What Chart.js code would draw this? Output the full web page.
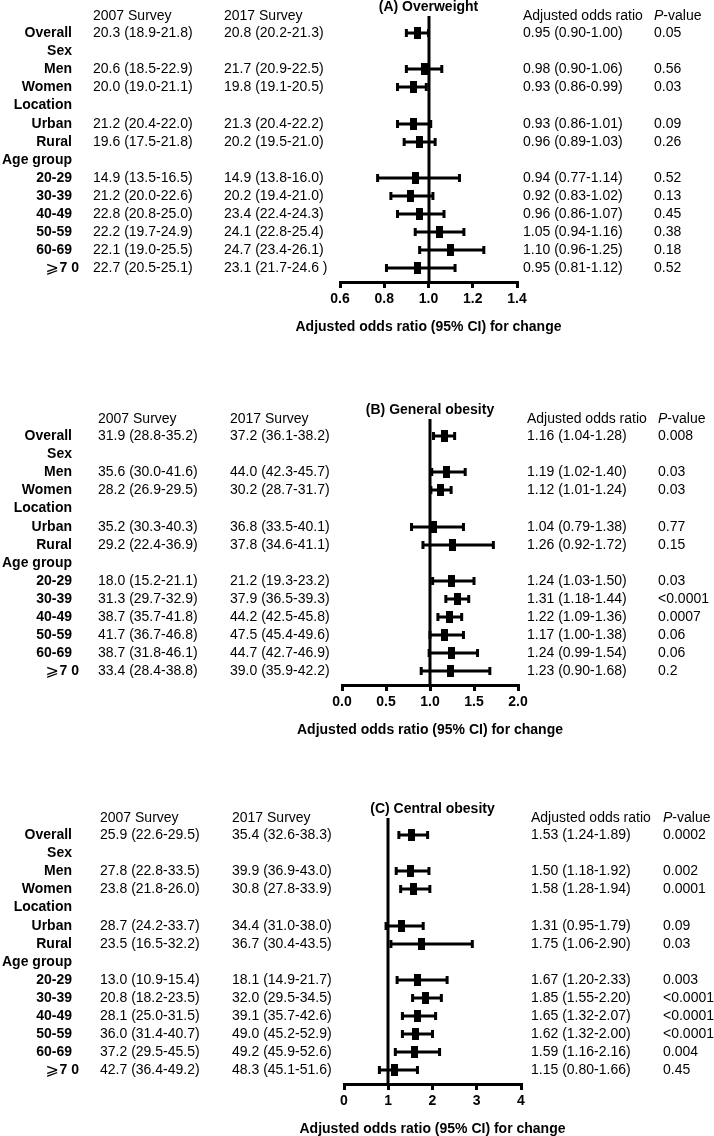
<!DOCTYPE html>
<html>
<head>
<meta charset="utf-8">
<script src="https://cdn.jsdelivr.net/npm/chart.js@4.4.1/dist/chart.umd.min.js"></script>
<style>
  html, body { margin: 0; padding: 0; background: #fff; }
  #page { position: relative; width: 714px; height: 1136px; overflow: hidden; }
  #page canvas { position: absolute; left: 0; }
</style>
</head>
<body>
<div id="page">
  <canvas id="panelA" width="714" height="340" style="top:-2px"></canvas>
  <canvas id="panelB" width="714" height="340" style="top:401px"></canvas>
  <canvas id="panelC" width="714" height="340" style="top:800px"></canvas>
</div>
<script>
// filas de la tabla (los grupos no llevan datos)
var rowLabels = ['Overall', 'Sex', 'Men', 'Women', 'Location', 'Urban', 'Rural', 'Age group',
                 '20-29', '30-39', '40-49', '50-59', '60-69', '\u2A7E7 0'];
var groupRows = [1, 4, 7];

// (A) Overweight
var overweight2007 = ['20.3 (18.9-21.8)', null, '20.6 (18.5-22.9)', '20.0 (19.0-21.1)', null, '21.2 (20.4-22.0)', '19.6 (17.5-21.8)', null,
                      '14.9 (13.5-16.5)', '21.2 (20.0-22.6)', '22.8 (20.8-25.0)', '22.2 (19.7-24.9)', '22.1 (19.0-25.5)', '22.7 (20.5-25.1)'];
var overweight2017 = ['20.8 (20.2-21.3)', null, '21.7 (20.9-22.5)', '19.8 (19.1-20.5)', null, '21.3 (20.4-22.2)', '20.2 (19.5-21.0)', null,
                      '14.9 (13.8-16.0)', '20.2 (19.4-21.0)', '23.4 (22.4-24.3)', '24.1 (22.8-25.4)', '24.7 (23.4-26.1)', '23.1 (21.7-24.6 )'];
var overweightOR   = [0.95, null, 0.98, 0.93, null, 0.93, 0.96, null, 0.94, 0.92, 0.96, 1.05, 1.10, 0.95];
var overweightLow  = [0.90, null, 0.90, 0.86, null, 0.86, 0.89, null, 0.77, 0.83, 0.86, 0.94, 0.96, 0.81];
var overweightHigh = [1.00, null, 1.06, 0.99, null, 1.01, 1.03, null, 1.14, 1.02, 1.07, 1.16, 1.25, 1.12];
var overweightP    = ['0.05', null, '0.56', '0.03', null, '0.09', '0.26', null, '0.52', '0.13', '0.45', '0.38', '0.18', '0.52'];
var overweightTicks = [0.6, 0.8, 1.0, 1.2, 1.4];

// (B) General obesity
var general2007 = ['31.9 (28.8-35.2)', null, '35.6 (30.0-41.6)', '28.2 (26.9-29.5)', null, '35.2 (30.3-40.3)', '29.2 (22.4-36.9)', null,
                   '18.0 (15.2-21.1)', '31.3 (29.7-32.9)', '38.7 (35.7-41.8)', '41.7 (36.7-46.8)', '38.7 (31.8-46.1)', '33.4 (28.4-38.8)'];
var general2017 = ['37.2 (36.1-38.2)', null, '44.0 (42.3-45.7)', '30.2 (28.7-31.7)', null, '36.8 (33.5-40.1)', '37.8 (34.6-41.1)', null,
                   '21.2 (19.3-23.2)', '37.9 (36.5-39.3)', '44.2 (42.5-45.8)', '47.5 (45.4-49.6)', '44.7 (42.7-46.9)', '39.0 (35.9-42.2)'];
var generalOR   = [1.16, null, 1.19, 1.12, null, 1.04, 1.26, null, 1.24, 1.31, 1.22, 1.17, 1.24, 1.23];
var generalLow  = [1.04, null, 1.02, 1.01, null, 0.79, 0.92, null, 1.03, 1.18, 1.09, 1.00, 0.99, 0.90];
var generalHigh = [1.28, null, 1.40, 1.24, null, 1.38, 1.72, null, 1.50, 1.44, 1.36, 1.38, 1.54, 1.68];
var generalP    = ['0.008', null, '0.03', '0.03', null, '0.77', '0.15', null, '0.03', '<0.0001', '0.0007', '0.06', '0.06', '0.2'];
var generalTicks = [0.0, 0.5, 1.0, 1.5, 2.0];

// (C) Central obesity
var central2007 = ['25.9 (22.6-29.5)', null, '27.8 (22.8-33.5)', '23.8 (21.8-26.0)', null, '28.7 (24.2-33.7)', '23.5 (16.5-32.2)', null,
                   '13.0 (10.9-15.4)', '20.8 (18.2-23.5)', '28.1 (25.0-31.5)', '36.0 (31.4-40.7)', '37.2 (29.5-45.5)', '42.7 (36.4-49.2)'];
var central2017 = ['35.4 (32.6-38.3)', null, '39.9 (36.9-43.0)', '30.8 (27.8-33.9)', null, '34.4 (31.0-38.0)', '36.7 (30.4-43.5)', null,
                   '18.1 (14.9-21.7)', '32.0 (29.5-34.5)', '39.1 (35.7-42.6)', '49.0 (45.2-52.9)', '49.2 (45.9-52.6)', '48.3 (45.1-51.6)'];
var centralOR   = [1.53, null, 1.50, 1.58, null, 1.31, 1.75, null, 1.67, 1.85, 1.65, 1.62, 1.59, 1.15];
var centralLow  = [1.24, null, 1.18, 1.28, null, 0.95, 1.06, null, 1.20, 1.55, 1.32, 1.32, 1.16, 0.80];
var centralHigh = [1.89, null, 1.92, 1.94, null, 1.79, 2.90, null, 2.33, 2.20, 2.07, 2.00, 2.16, 1.66];
var centralP    = ['0.0002', null, '0.002', '0.0001', null, '0.09', '0.03', null, '0.003', '<0.0001', '<0.0001', '<0.0001', '0.004', '0.45'];
var centralTicks = [0, 1, 2, 3, 4];

var FAMILY = '"Liberation Sans", Arial, "DejaVu Sans", sans-serif';
var NORMAL = '14px ' + FAMILY;
var BOLD = 'bold 14px ' + FAMILY;

// paneles: datos + posiciones de las columnas de texto
var panels = {
  panelA: { title: '(A) Overweight', s2007: overweight2007, s2017: overweight2017, or: overweightOR, lo: overweightLow, hi: overweightHigh,
            p: overweightP, ticks: overweightTicks, decimals: 1, left: 340, right: 517,
            colLabel: 72, col2007: 93, col2017: 224, colOR: 523, colP: 654 },
  panelB: { title: '(B) General obesity', s2007: general2007, s2017: general2017, or: generalOR, lo: generalLow, hi: generalHigh,
            p: generalP, ticks: generalTicks, decimals: 1, left: 342, right: 518,
            colLabel: 72, col2007: 98, col2017: 230, colOR: 527, colP: 658 },
  panelC: { title: '(C) Central obesity', s2007: central2007, s2017: central2017, or: centralOR, lo: centralLow, hi: centralHigh,
            p: centralP, ticks: centralTicks, decimals: 0, left: 344, right: 521,
            colLabel: 72, col2007: 100, col2017: 232, colOR: 531, colP: 663 }
};

// cuadrado del estimador
var box = document.createElement('canvas');
box.width = 7; box.height = 12;
box.getContext('2d').fillRect(0, 0, 7, 12);

function texto(ctx, str, x, y, font, align) {
  ctx.font = font;
  ctx.textAlign = align || 'left';
  ctx.fillText(str, x, y);
}

var forestPlugin = {
  id: 'forest',
  beforeDatasetsDraw: function(chart) {
    var p = panels[chart.canvas.id];
    var ctx = chart.ctx, xs = chart.scales.x, ys = chart.scales.y, area = chart.chartArea;
    ctx.save();
    ctx.strokeStyle = '#000';
    ctx.fillStyle = '#000';
    // linea de referencia OR = 1
    var x1 = Math.round(xs.getPixelForValue(1));
    ctx.lineWidth = 3;
    ctx.beginPath();
    ctx.moveTo(x1, area.top);
    ctx.lineTo(x1, area.bottom);
    ctx.stroke();
    // intervalos de confianza
    ctx.lineWidth = 3;
    for (var i = 0; i < p.or.length; i++) {
      if (p.or[i] === null) continue;
      var yy = Math.round(ys.getPixelForValue(i));
      var xl = xs.getPixelForValue(p.lo[i]);
      var xh = xs.getPixelForValue(p.hi[i]);
      ctx.beginPath();
      ctx.moveTo(xl, yy);
      ctx.lineTo(xh, yy);
      ctx.stroke();
      ctx.fillRect(xl - 1.5, yy - 4, 3, 8);
      ctx.fillRect(xh - 1.5, yy - 4, 3, 8);
    }
    ctx.restore();
  },
  afterDraw: function(chart) {
    var p = panels[chart.canvas.id];
    var ctx = chart.ctx, ys = chart.scales.y, area = chart.chartArea;
    var mid = (area.left + area.right) / 2;
    ctx.save();
    ctx.fillStyle = '#000';
    ctx.textBaseline = 'middle';

    texto(ctx, p.title, mid, area.top - 9, BOLD, 'center');
    texto(ctx, 'Adjusted odds ratio (95% CI) for change', mid, area.bottom + 45, BOLD, 'center');

    var yh = ys.getPixelForValue(-0.95);
    texto(ctx, '2007 Survey', p.col2007, yh, NORMAL);
    texto(ctx, '2017 Survey', p.col2017, yh, NORMAL);
    texto(ctx, 'Adjusted odds ratio', p.colOR, yh, NORMAL);
    texto(ctx, 'P', p.colP, yh, 'italic ' + NORMAL);
    ctx.font = 'italic ' + NORMAL;
    var w = ctx.measureText('P').width;
    texto(ctx, '-value', p.colP + w, yh, NORMAL);

    for (var i = 0; i < rowLabels.length; i++) {
      var y = ys.getPixelForValue(i);
      var lab = rowLabels[i];
      if (groupRows.indexOf(i) >= 0) {
        texto(ctx, lab, p.colLabel, y, BOLD, 'right');
        continue;
      }
      if (lab.charAt(0) === '\u2A7E') {
        texto(ctx, lab.slice(1), p.colLabel + 7, y, BOLD, 'right');
        ctx.font = BOLD;
        var wl = ctx.measureText(lab.slice(1)).width;
        texto(ctx, '\u2A7E', p.colLabel + 7 - wl - 1, y, '16px ' + FAMILY, 'right');
      } else {
        texto(ctx, lab, p.colLabel, y, BOLD, 'right');
      }
      texto(ctx, p.s2007[i], p.col2007, y, NORMAL);
      texto(ctx, p.s2017[i], p.col2017, y, NORMAL);
      texto(ctx, p.or[i].toFixed(2) + ' (' + p.lo[i].toFixed(2) + '-' + p.hi[i].toFixed(2) + ')', p.colOR, y, NORMAL);
      texto(ctx, p.p[i], p.colP, y, NORMAL);
    }
    ctx.restore();
  }
};

function crearPanel(id) {
  var p = panels[id];
  var puntos = [];
  for (var i = 0; i < p.or.length; i++) {
    if (p.or[i] !== null) puntos.push({ x: p.or[i], y: i });
  }
  return new Chart(document.getElementById(id), {
    type: 'scatter',
    data: {
      datasets: [{
        data: puntos,
        pointStyle: box,
        pointRadius: 5,
        backgroundColor: '#000',
        borderColor: '#000'
      }]
    },
    plugins: [forestPlugin],
    options: {
      responsive: false,
      animation: false,
      events: [],
      layout: { padding: { left: p.left, right: 714 - p.right, top: 18, bottom: 26 } },
      plugins: { legend: { display: false }, tooltip: { enabled: false } },
      scales: {
        x: {
          type: 'linear',
          min: p.ticks[0],
          max: p.ticks[p.ticks.length - 1],
          afterBuildTicks: function(scale) {
            scale.ticks = p.ticks.map(function(v) { return { value: v }; });
          },
          afterFit: function(scale) { scale.height = 30; },
          border: { display: true, color: '#000', width: 3 },
          grid: { drawOnChartArea: false, drawTicks: true, tickLength: 6, color: '#000', lineWidth: 3 },
          ticks: {
            color: '#000',
            padding: 3,
            font: { family: FAMILY, size: 14, weight: 'bold' },
            maxRotation: 0,
            callback: function(v) { return Number(v).toFixed(p.decimals); }
          }
        },
        y: {
          type: 'linear',
          display: false,
          reverse: true,
          min: -0.95,
          max: 13.75
        }
      }
    }
  });
}

crearPanel('panelA');
crearPanel('panelB');
crearPanel('panelC');
</script>
</body>
</html>
